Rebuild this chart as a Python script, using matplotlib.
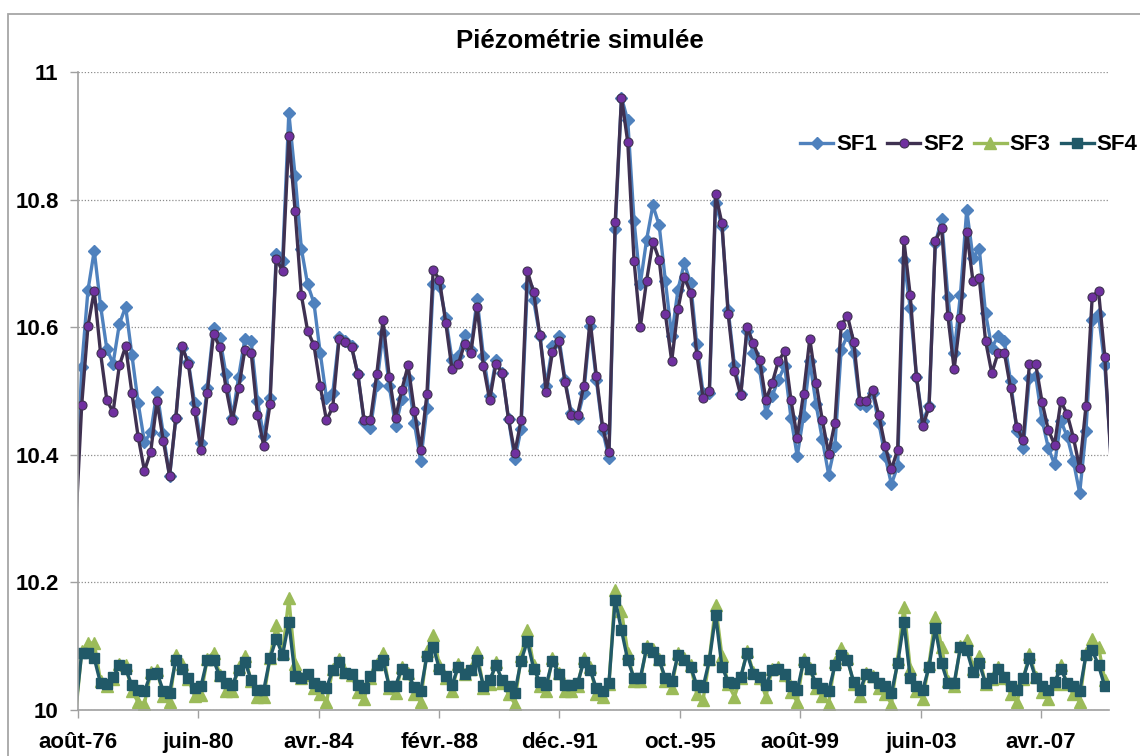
import pandas as pd
import matplotlib
matplotlib.use("Agg")
import matplotlib.pyplot as plt
from matplotlib.patches import Rectangle

plt.rcParams['font.family'] = ['Liberation Sans', 'DejaVu Sans']
plt.rcParams['font.weight'] = 'bold'

# one value every 73 days (5 per year), first one just before the axis start
firstDate = '1976-07-02'
stepDays = '73D'

sf1 = [10.30, 10.538, 10.658, 10.720, 10.634, 10.566, 10.543, 10.605, 10.632, 10.556,
       10.481, 10.420, 10.435, 10.499, 10.432, 10.366, 10.458, 10.568, 10.545, 10.481,
       10.419, 10.505, 10.599, 10.583, 10.526, 10.458, 10.522, 10.582, 10.578, 10.484,
       10.429, 10.489, 10.715, 10.703, 10.936, 10.837, 10.723, 10.667, 10.638, 10.560,
       10.489, 10.497, 10.585, 10.578, 10.570, 10.526, 10.452, 10.442, 10.509, 10.591,
       10.508, 10.445, 10.487, 10.521, 10.450, 10.390, 10.474, 10.667, 10.664, 10.615,
       10.549, 10.555, 10.587, 10.565, 10.644, 10.555, 10.492, 10.549, 10.528, 10.456,
       10.393, 10.440, 10.665, 10.642, 10.586, 10.508, 10.570, 10.586, 10.518, 10.465,
       10.458, 10.497, 10.602, 10.517, 10.438, 10.395, 10.754, 10.960, 10.924, 10.767,
       10.668, 10.737, 10.791, 10.760, 10.672, 10.586, 10.659, 10.700, 10.670, 10.573,
       10.497, 10.497, 10.794, 10.758, 10.627, 10.540, 10.495, 10.594, 10.560, 10.534,
       10.466, 10.492, 10.518, 10.539, 10.458, 10.398, 10.461, 10.547, 10.479, 10.424,
       10.369, 10.414, 10.565, 10.587, 10.560, 10.479, 10.476, 10.497, 10.450, 10.398,
       10.354, 10.382, 10.706, 10.630, 10.522, 10.453, 10.476, 10.732, 10.769, 10.648,
       10.560, 10.651, 10.784, 10.709, 10.723, 10.622, 10.568, 10.586, 10.578, 10.515,
       10.437, 10.411, 10.521, 10.523, 10.455, 10.411, 10.385, 10.453, 10.429, 10.390,
       10.340, 10.437, 10.612, 10.620, 10.540, 10.40]

sf2 = [10.28, 10.478, 10.602, 10.657, 10.560, 10.486, 10.467, 10.540, 10.570, 10.497,
       10.428, 10.375, 10.405, 10.484, 10.422, 10.367, 10.458, 10.570, 10.542, 10.469,
       10.407, 10.497, 10.589, 10.569, 10.504, 10.454, 10.504, 10.565, 10.560, 10.463,
       10.414, 10.479, 10.707, 10.688, 10.899, 10.782, 10.650, 10.594, 10.572, 10.508,
       10.454, 10.475, 10.581, 10.577, 10.569, 10.526, 10.454, 10.454, 10.526, 10.611,
       10.522, 10.458, 10.502, 10.540, 10.469, 10.408, 10.495, 10.690, 10.674, 10.607,
       10.534, 10.542, 10.574, 10.560, 10.632, 10.539, 10.486, 10.543, 10.528, 10.456,
       10.403, 10.454, 10.688, 10.655, 10.587, 10.499, 10.561, 10.578, 10.514, 10.463,
       10.463, 10.508, 10.611, 10.523, 10.443, 10.404, 10.765, 10.960, 10.890, 10.704,
       10.600, 10.673, 10.734, 10.706, 10.620, 10.547, 10.628, 10.679, 10.654, 10.557,
       10.489, 10.500, 10.808, 10.763, 10.620, 10.531, 10.493, 10.600, 10.575, 10.549,
       10.486, 10.512, 10.547, 10.562, 10.486, 10.427, 10.496, 10.582, 10.513, 10.454,
       10.402, 10.450, 10.603, 10.618, 10.577, 10.484, 10.484, 10.502, 10.462, 10.414,
       10.377, 10.408, 10.736, 10.650, 10.522, 10.445, 10.475, 10.735, 10.756, 10.618,
       10.534, 10.615, 10.750, 10.672, 10.677, 10.579, 10.528, 10.560, 10.560, 10.504,
       10.443, 10.423, 10.543, 10.542, 10.483, 10.439, 10.416, 10.484, 10.464, 10.427,
       10.379, 10.476, 10.648, 10.657, 10.554, 10.39]

sf3 = [9.99, 10.092, 10.105, 10.105, 10.045, 10.038, 10.048, 10.072, 10.070, 10.030,
       10.012, 10.010, 10.060, 10.062, 10.022, 10.012, 10.086, 10.072, 10.048, 10.022,
       10.024, 10.080, 10.090, 10.055, 10.030, 10.030, 10.068, 10.084, 10.045, 10.020,
       10.020, 10.082, 10.133, 10.090, 10.175, 10.072, 10.050, 10.055, 10.035, 10.025,
       10.012, 10.065, 10.080, 10.060, 10.055, 10.028, 10.018, 10.050, 10.072, 10.090,
       10.035, 10.026, 10.068, 10.058, 10.025, 10.013, 10.092, 10.117, 10.070, 10.050,
       10.030, 10.072, 10.056, 10.065, 10.091, 10.035, 10.040, 10.075, 10.042, 10.025,
       10.010, 10.085, 10.125, 10.070, 10.037, 10.030, 10.082, 10.058, 10.030, 10.030,
       10.038, 10.082, 10.068, 10.025, 10.021, 10.040, 10.188, 10.155, 10.090, 10.045,
       10.045, 10.100, 10.095, 10.080, 10.045, 10.035, 10.090, 10.082, 10.070, 10.025,
       10.016, 10.080, 10.164, 10.085, 10.040, 10.021, 10.050, 10.092, 10.060, 10.050,
       10.021, 10.065, 10.068, 10.055, 10.028, 10.013, 10.080, 10.066, 10.035, 10.022,
       10.010, 10.075, 10.097, 10.082, 10.040, 10.022, 10.058, 10.054, 10.035, 10.025,
       10.010, 10.080, 10.162, 10.065, 10.030, 10.018, 10.072, 10.146, 10.099, 10.045,
       10.038, 10.100, 10.110, 10.065, 10.084, 10.040, 10.048, 10.068, 10.050, 10.025,
       10.013, 10.048, 10.088, 10.052, 10.028, 10.018, 10.040, 10.070, 10.040, 10.025,
       10.013, 10.090, 10.112, 10.099, 10.047, 10.03]

sf4 = [10.00, 10.089, 10.089, 10.081, 10.042, 10.040, 10.052, 10.070, 10.064, 10.039,
       10.031, 10.029, 10.057, 10.058, 10.030, 10.027, 10.079, 10.065, 10.050, 10.034,
       10.037, 10.079, 10.078, 10.053, 10.042, 10.039, 10.063, 10.076, 10.047, 10.031,
       10.031, 10.081, 10.112, 10.086, 10.138, 10.053, 10.050, 10.057, 10.042, 10.037,
       10.034, 10.063, 10.076, 10.058, 10.057, 10.039, 10.034, 10.053, 10.070, 10.078,
       10.037, 10.038, 10.065, 10.057, 10.036, 10.029, 10.085, 10.099, 10.064, 10.053,
       10.039, 10.068, 10.056, 10.063, 10.078, 10.038, 10.047, 10.070, 10.047, 10.037,
       10.027, 10.077, 10.108, 10.065, 10.044, 10.039, 10.077, 10.057, 10.039, 10.039,
       10.042, 10.076, 10.063, 10.034, 10.029, 10.042, 10.173, 10.125, 10.078, 10.050,
       10.050, 10.097, 10.091, 10.078, 10.050, 10.045, 10.086, 10.078, 10.068, 10.039,
       10.036, 10.078, 10.149, 10.068, 10.044, 10.042, 10.052, 10.089, 10.057, 10.052,
       10.039, 10.063, 10.065, 10.056, 10.037, 10.031, 10.076, 10.064, 10.042, 10.034,
       10.029, 10.070, 10.086, 10.078, 10.044, 10.031, 10.057, 10.052, 10.042, 10.037,
       10.026, 10.073, 10.138, 10.050, 10.037, 10.031, 10.068, 10.128, 10.073, 10.042,
       10.042, 10.098, 10.094, 10.060, 10.073, 10.042, 10.050, 10.065, 10.052, 10.037,
       10.031, 10.050, 10.081, 10.050, 10.037, 10.031, 10.044, 10.065, 10.042, 10.037,
       10.029, 10.086, 10.094, 10.070, 10.037, 10.03]

tickDates = ['1976-08-01', '1980-06-01', '1984-04-01', '1988-02-01', '1991-12-01',
             '1995-10-01', '1999-08-01', '2003-06-01', '2007-04-01']
tickLabels = ['août-76', 'juin-80', 'avr.-84', 'févr.-88', 'déc.-91',
              'oct.-95', 'août-99', 'juin-03', 'avr.-07']
yTicks = [10, 10.2, 10.4, 10.6, 10.8, 11]
yLabels = ['10', '10.2', '10.4', '10.6', '10.8', '11']
seriesNames = ['SF1', 'SF2', 'SF3', 'SF4']

dates = pd.date_range(firstDate, periods=len(sf1), freq=stepDays)
# first and last points sit just outside the axis: line only, no marker
visible = list(range(1, len(dates) - 1))

fig = plt.figure(figsize=(11.4, 7.56), dpi=100)
ax = fig.add_axes([78 / 1140, 1 - 710 / 756, (1109 - 78) / 1140, (710 - 72) / 756])

# chart area border (Excel style)
fig.add_artist(Rectangle((8 / 1140, -0.01), 1.02, 1 - 14 / 756 + 0.01,
                         transform=fig.transFigure, fill=False,
                         edgecolor='#A6A6A6', linewidth=1.3))

styles = [
    dict(color='#4F81BD', marker='D', markersize=6, markerfacecolor='#4F81BD',
         markeredgecolor='#4F81BD', linewidth=2.4),
    dict(color='#3F3151', marker='o', markersize=6.5, markerfacecolor='#7030A0',
         markeredgecolor='#3F3151', markeredgewidth=0.8, linewidth=2.4),
    dict(color='#9BBB59', marker='^', markersize=8, markerfacecolor='#9BBB59',
         markeredgecolor='#9BBB59', linewidth=2.4),
    dict(color='#215968', marker='s', markersize=7, markerfacecolor='#215968',
         markeredgecolor='#215968', linewidth=2.4),
]

for values, name, st in zip([sf1, sf2, sf3, sf4], seriesNames, styles):
    ax.plot(dates, values, label=name, markevery=visible, **st)

ax.set_xlim(pd.Timestamp('1976-08-01'), pd.Timestamp('2009-05-31'))
ax.set_ylim(10, 11)

ax.set_xticks(pd.to_datetime(tickDates))
ax.set_xticklabels(tickLabels)
ax.set_yticks(yTicks)
ax.set_yticklabels(yLabels)

ax.tick_params(axis='x', length=6, width=1, color='#A0A0A0', pad=10, labelsize=16)
ax.tick_params(axis='y', length=6, width=1, color='#A0A0A0', pad=8, labelsize=16)

ax.grid(axis='y', color='#8C8C8C', linestyle=(0, (1, 1.5)), linewidth=0.9)
ax.set_axisbelow(True)

for side in ['top', 'right']:
    ax.spines[side].set_visible(False)
for side in ['left', 'bottom']:
    ax.spines[side].set_color('#A0A0A0')
    ax.spines[side].set_linewidth(1.2)

fig.text(0.509, 1 - 41 / 756, 'Piézométrie simulée', ha='center', va='center',
         fontsize=18.5, fontweight='bold')

fig.legend(loc='center left', bbox_to_anchor=(800 / 1140, 1 - 145 / 756), ncol=4,
           frameon=False, fontsize=16, numpoints=1, handlelength=1.5,
           handletextpad=0.12, columnspacing=0.45, borderaxespad=0, borderpad=0)

fig.savefig('out.png', dpi=100)
